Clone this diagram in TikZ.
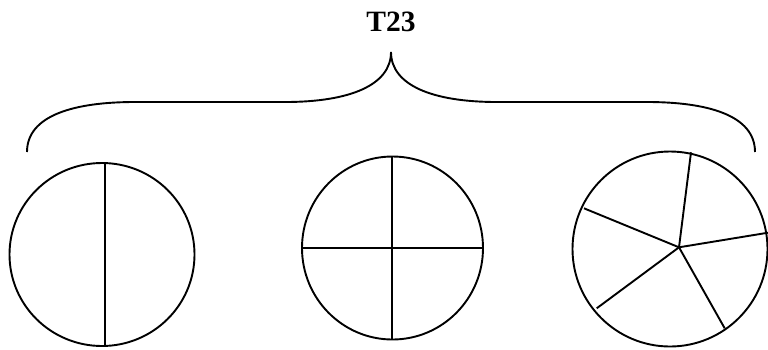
\documentclass[tikz,border=0pt]{standalone}
\usepackage{fontspec}
\setmainfont{Liberation Serif}
\begin{document}
\begin{tikzpicture}[x=1pt,y=-1pt,
  shape line/.style={line width=1.9pt, line join=round},
  title/.style={font=\fontsize{29.5}{30}\selectfont\bfseries, inner sep=0pt}]
\useasboundingbox (0,0) rectangle (768,349);
% title
\node[title] (t) at (391,22) {T23};
% brace
\coordinate (tip) at (391,52);
\coordinate (bl) at (27,152);
\coordinate (br) at (755,152);
\draw[shape line] (bl) .. controls (27,115) and (75,102) .. (135,102) -- (285,102)
   .. controls (350,102) and (391,85) .. (tip);
\draw[shape line] (br) .. controls (755,115) and (707,102) .. (647,102) -- (497,102)
   .. controls (432,102) and (391,85) .. (tip);
% left circle
\coordinate (c1) at (102,254.5);
\draw[shape line] (c1) circle[x radius=92.5, y radius=91.5];
\draw[shape line] (105,163.5) -- (105,345.5);
% middle circle
\coordinate (c2) at (392.5,248);
\draw[shape line] (c2) circle[x radius=90.5, y radius=91.5];
\draw[shape line] (392,156.5) -- (392,339.5);
\draw[shape line] (302,248) -- (483,248);
% right circle
\coordinate (c3) at (670,249);
\draw[shape line] (c3) circle[x radius=97.5, y radius=97.5];
\coordinate (hub) at (679,247.3);
\draw[shape line] (hub) -- (691,152.3);
\draw[shape line] (hub) -- (768,232.7);
\draw[shape line] (hub) -- (724.7,328.3);
\draw[shape line] (hub) -- (596.7,308.3);
\draw[shape line] (hub) -- (584,208.3);
\end{tikzpicture}
\end{document}
